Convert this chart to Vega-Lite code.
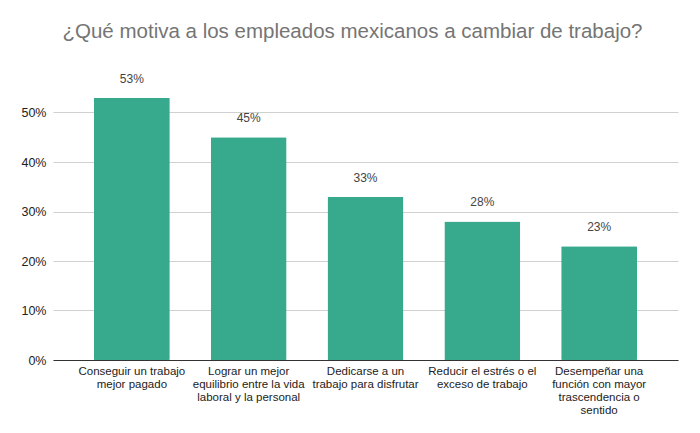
{
  "$schema": "https://vega.github.io/schema/vega-lite/v6.json",
  "autosize": "none",
  "width": 625,
  "height": 297,
  "padding": {"left": 53, "top": 63, "right": 22, "bottom": 73},
  "background": "white",
  "title": {
    "text": "¿Qué motiva a los empleados mexicanos a cambiar de trabajo?",
    "font": "Liberation Sans",
    "fontSize": 20.5,
    "fontWeight": "normal",
    "color": "#757575",
    "anchor": "middle",
    "dx": -13,
    "offset": 21
  },
  "data": {
    "values": [
      {"motivo": "Conseguir un trabajo\nmejor pagado", "valor": 0.53},
      {"motivo": "Lograr un mejor\nequilibrio entre la vida\nlaboral y la personal", "valor": 0.45},
      {"motivo": "Dedicarse a un\ntrabajo para disfrutar", "valor": 0.33},
      {"motivo": "Reducir el estrés o el\nexceso de trabajo", "valor": 0.28},
      {"motivo": "Desempeñar una\nfunción con mayor\ntrascendencia o\nsentido", "valor": 0.23}
    ]
  },
  "encoding": {
    "x": {
      "field": "motivo",
      "type": "nominal",
      "sort": null,
      "title": null,
      "scale": {"paddingInner": 0.35, "paddingOuter": 0.35},
      "axis": {
        "labelAngle": 0,
        "labelExpr": "split(datum.label, '\\n')",
        "labelFont": "Liberation Sans",
        "labelFontSize": 11.5,
        "labelColor": "#222222",
        "labelLineHeight": 13.3,
        "labelPadding": 5,
        "labelLimit": 200,
        "ticks": false,
        "domainColor": "#333333",
        "domainWidth": 1,
        "grid": false
      }
    },
    "y": {
      "field": "valor",
      "type": "quantitative",
      "title": null,
      "scale": {"domain": [0, 0.6]},
      "axis": {
        "values": [0, 0.1, 0.2, 0.3, 0.4, 0.5],
        "format": ".0%",
        "labelFont": "Liberation Sans",
        "labelFontSize": 12.5,
        "labelColor": "#222222",
        "labelPadding": 7,
        "ticks": false,
        "domain": false,
        "gridColor": "#d0d0d0",
        "gridWidth": 1
      }
    }
  },
  "layer": [
    {
      "mark": {"type": "bar", "color": "#37a98c", "cornerRadius": 1}
    },
    {
      "mark": {
        "type": "text",
        "baseline": "bottom",
        "dy": -12,
        "font": "Liberation Sans",
        "fontSize": 12,
        "color": "#444444"
      },
      "encoding": {
        "text": {"field": "valor", "type": "quantitative", "format": ".0%"}
      }
    }
  ],
  "config": {"view": {"stroke": null}}
}
